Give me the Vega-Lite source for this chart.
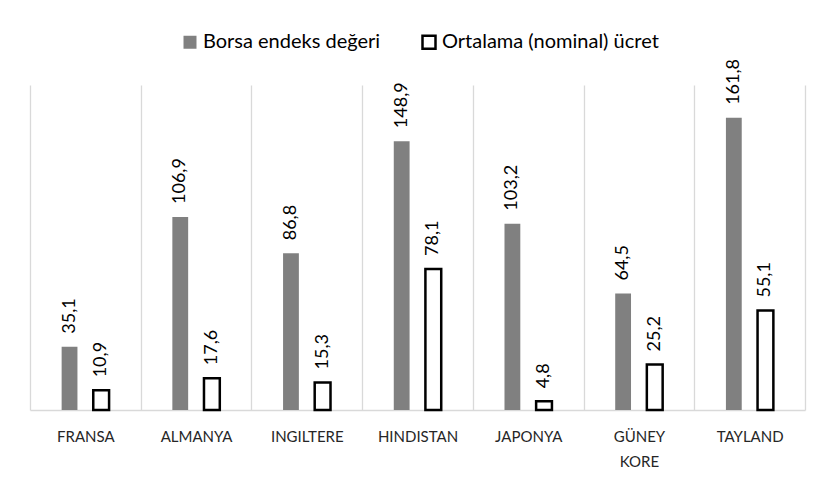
{
  "$schema": "https://vega.github.io/schema/vega-lite/v6.json",
  "width": 775,
  "height": 325,
  "autosize": {"type": "none"},
  "padding": {"left": 30, "top": 85, "right": 17, "bottom": 77},
  "background": "white",
  "config": {"view": {"stroke": null}, "font": "Lato"},
  "data": {
    "values": [
      {"country": "FRANSA", "series": "Borsa endeks değeri", "value": 35.1, "label": "35,1"},
      {"country": "FRANSA", "series": "Ortalama (nominal) ücret", "value": 10.9, "label": "10,9"},
      {"country": "ALMANYA", "series": "Borsa endeks değeri", "value": 106.9, "label": "106,9"},
      {"country": "ALMANYA", "series": "Ortalama (nominal) ücret", "value": 17.6, "label": "17,6"},
      {"country": "INGILTERE", "series": "Borsa endeks değeri", "value": 86.8, "label": "86,8"},
      {"country": "INGILTERE", "series": "Ortalama (nominal) ücret", "value": 15.3, "label": "15,3"},
      {"country": "HINDISTAN", "series": "Borsa endeks değeri", "value": 148.9, "label": "148,9"},
      {"country": "HINDISTAN", "series": "Ortalama (nominal) ücret", "value": 78.1, "label": "78,1"},
      {"country": "JAPONYA", "series": "Borsa endeks değeri", "value": 103.2, "label": "103,2"},
      {"country": "JAPONYA", "series": "Ortalama (nominal) ücret", "value": 4.8, "label": "4,8"},
      {"country": "GÜNEY KORE", "series": "Borsa endeks değeri", "value": 64.5, "label": "64,5"},
      {"country": "GÜNEY KORE", "series": "Ortalama (nominal) ücret", "value": 25.2, "label": "25,2"},
      {"country": "TAYLAND", "series": "Borsa endeks değeri", "value": 161.8, "label": "161,8"},
      {"country": "TAYLAND", "series": "Ortalama (nominal) ücret", "value": 55.1, "label": "55,1"}
    ]
  },
  "encoding": {
    "x": {
      "field": "country",
      "type": "nominal",
      "sort": null,
      "scale": {"paddingInner": 0, "paddingOuter": 0},
      "axis": {
        "title": null,
        "tickBand": "extent",
        "grid": true,
        "gridColor": "#d9d9d9",
        "gridWidth": 1.3,
        "domainColor": "#d9d9d9",
        "domainWidth": 1.3,
        "ticks": false,
        "labelAngle": 0,
        "labelFont": "Lato",
        "labelFontSize": 15,
        "labelColor": "#262626",
        "labelPadding": 19,
        "labelLineHeight": 25,
        "labelExpr": "datum.value == 'GÜNEY KORE' ? ['GÜNEY', 'KORE'] : datum.value"
      }
    },
    "xOffset": {
      "field": "series",
      "type": "nominal",
      "sort": null,
      "scale": {"paddingInner": 0.5, "paddingOuter": 1.14}
    },
    "y": {
      "field": "value",
      "type": "quantitative",
      "scale": {"domain": [0, 180]},
      "axis": null
    }
  },
  "layer": [
    {
      "mark": {"type": "bar", "strokeWidth": 2.5},
      "encoding": {
        "fill": {
          "field": "series",
          "type": "nominal",
          "sort": null,
          "scale": {"range": ["#808080", "#ffffff"]},
          "legend": {
            "orient": "none",
            "legendX": 150,
            "legendY": -53,
            "direction": "horizontal",
            "title": null,
            "symbolType": "square",
            "symbolSize": 169,
            "symbolStrokeWidth": 2.5,
            "labelFont": "Lato",
            "labelFontSize": 20,
            "labelLimit": 0,
            "labelColor": "#000000",
            "labelOffset": 3,
            "columnPadding": 36
          }
        },
        "stroke": {
          "field": "series",
          "type": "nominal",
          "sort": null,
          "scale": {"range": ["transparent", "#000000"]}
        }
      }
    },
    {
      "mark": {
        "type": "text",
        "angle": 270,
        "align": "left",
        "baseline": "middle",
        "dx": 13,
        "font": "Lato",
        "fontSize": 18,
        "color": "#000000"
      },
      "encoding": {"text": {"field": "label"}}
    }
  ]
}
